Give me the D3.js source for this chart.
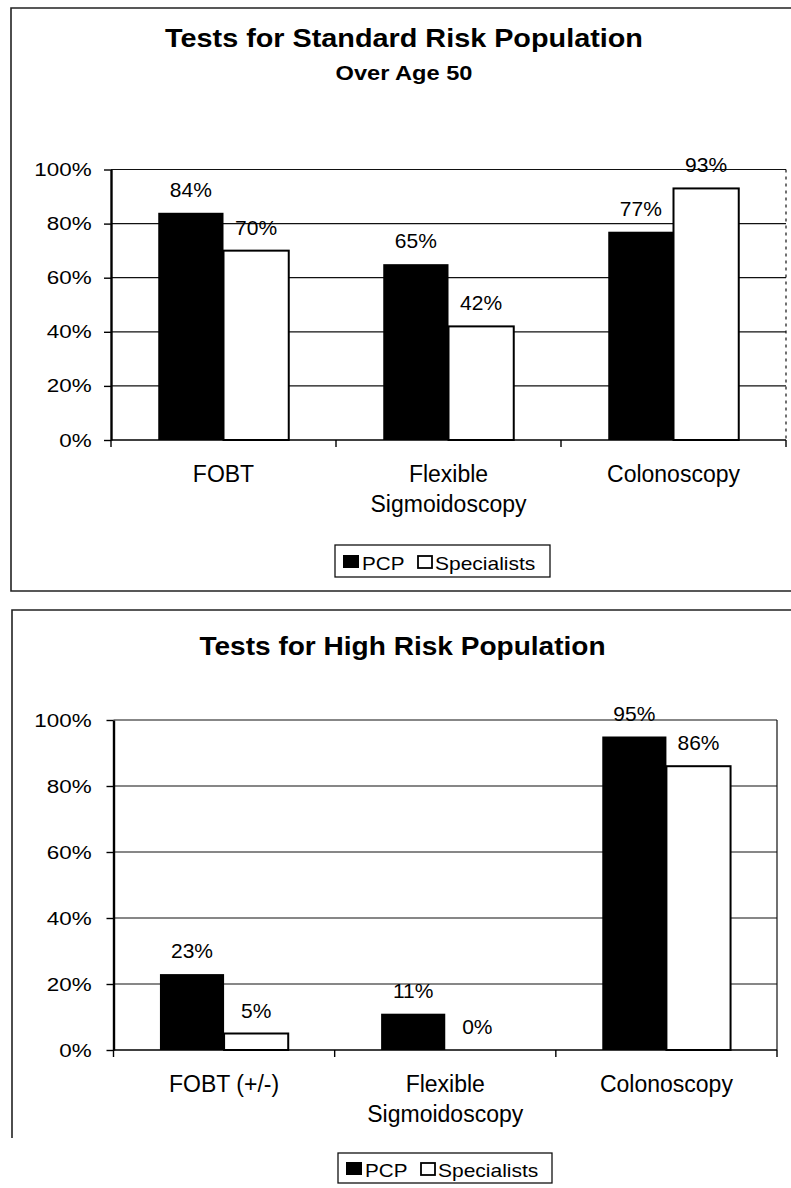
<!DOCTYPE html>
<html>
<head>
<meta charset="utf-8">
<script src="https://cdn.jsdelivr.net/npm/d3@7"></script>
<style>
body{margin:0;background:#fff;}
svg{display:block;font-family:'Liberation Sans',Arial,Helvetica,sans-serif;}
</style>
</head>
<body>
<svg id="chart" width="791" height="1188"></svg>
<script>
// data
const seriesNames = ['PCP', 'Specialists'];
const yTicks = [0, 20, 40, 60, 80, 100];

const standardCategories = ['FOBT', 'Flexible\nSigmoidoscopy', 'Colonoscopy'];
const standardPCP = [84, 65, 77];
const standardSpecialists = [70, 42, 93];

const highCategories = ['FOBT (+/-)', 'Flexible\nSigmoidoscopy', 'Colonoscopy'];
const highPCP = [23, 11, 95];
const highSpecialists = [5, 0, 86];

const svg = d3.select('#chart');

// scanned text is a bit wider than the font, so stretch it in x
function label(g, x, y, txt, size, sx, anchor, weight){
	return g.append('text')
		.attr('transform', `translate(${x},${y}) scale(${sx},1)`)
		.attr('text-anchor', anchor || 'middle')
		.style('font-size', size + 'px')
		.style('font-weight', weight || 'normal')
		.style('fill', '#000')
		.text(txt);
}

function drawChart(cfg){
	const g = svg.append('g');
	const p = cfg.plot;

	// outer frame
	const f = cfg.frame;
	g.append('path')
		.attr('d', f.bottom ? `M791,${f.y}H${f.x}V${f.bottom}H791` : `M791,${f.y}H${f.x}V${f.end}`)
		.style('fill', 'none').style('stroke', '#222').style('stroke-width', 1.6);

	cfg.titles.forEach(t => label(g, cfg.titleX, t.y, t.text, t.size, t.sx, 'middle', 'bold'));

	const y = d3.scaleLinear().domain([0, 100]).range([p.b, p.t]);
	const x0 = d3.scaleBand().domain(d3.range(cfg.categories.length)).range([p.l, p.r])
		.paddingInner(0.42).paddingOuter(0.21);
	const x1 = d3.scaleBand().domain(seriesNames).range([0, x0.bandwidth()]);

	// gridlines
	g.append('g').selectAll('line')
		.data(yTicks.filter(d => d > 0))
		.join('line')
		.attr('x1', p.l).attr('x2', p.r)
		.attr('y1', d => y(d)).attr('y2', d => y(d))
		.style('stroke', '#111').style('stroke-width', 1.2);

	// right border of plot area
	g.append('line')
		.attr('x1', p.r).attr('x2', p.r).attr('y1', p.t).attr('y2', p.b)
		.style('stroke', '#111').style('stroke-width', 1.2)
		.style('stroke-dasharray', cfg.rightDash || null);

	// bars
	const rows = cfg.categories.map((c, i) => ({i, values: [cfg.pcp[i], cfg.spec[i]]}));
	const grp = g.append('g').selectAll('g')
		.data(rows).join('g')
		.attr('transform', d => `translate(${x0(d.i)},0)`);
	grp.selectAll('rect')
		.data(d => d.values.map((v, k) => ({v, s: seriesNames[k]})))
		.join('rect')
		.attr('x', d => x1(d.s))
		.attr('y', d => y(d.v))
		.attr('width', x1.bandwidth())
		.attr('height', d => p.b - y(d.v))
		.style('fill', d => d.s === 'PCP' ? '#000' : '#fff')
		.style('stroke', '#000')
		.style('stroke-width', d => d.s === 'PCP' ? 0 : (d.v > 0 ? 2 : 0));
	grp.each(function(d){
		d.values.forEach((v, k) => {
			label(d3.select(this), x1(seriesNames[k]) + x1.bandwidth()/2, y(v) - 16, v + '%', 20, 1.05);
		});
	});

	// x axis
	g.append('line')
		.attr('x1', p.l).attr('x2', p.r).attr('y1', p.b).attr('y2', p.b)
		.style('stroke', '#000').style('stroke-width', 1.6);
	g.append('g').selectAll('line')
		.data(d3.range(cfg.categories.length + 1))
		.join('line')
		.attr('x1', d => p.l + d*x0.step()).attr('x2', d => p.l + d*x0.step())
		.attr('y1', p.b).attr('y2', p.b + 7)
		.style('stroke', '#000').style('stroke-width', 1.4);

	cfg.categories.forEach((c, i) => {
		c.split('\n').forEach((line, k) => {
			label(g, x0(i) + x0.bandwidth()/2, p.b + 42 + k*29.5, line, 23, 1.0);
		});
	});

	// y axis
	const ax = g.append('g')
		.attr('transform', `translate(${p.l},0)`)
		.call(d3.axisLeft(y).tickValues(yTicks).tickSize(7).tickSizeOuter(0).tickFormat(d => d + '%'));
	ax.select('.domain').style('stroke', '#000').style('stroke-width', 2.4);
	ax.selectAll('.tick line').style('stroke', '#000').style('stroke-width', 1.4);
	ax.selectAll('.tick text')
		.attr('x', cfg.tickX)
		.attr('transform', 'scale(1.18,1)')
		.style('font-size', '19px')
		.style('font-family', "'Liberation Sans',Arial,Helvetica,sans-serif")
		.style('fill', '#000');

	// legend
	const L = cfg.legend;
	const lg = g.append('g').attr('transform', `translate(${L.x},${L.y})`);
	lg.append('rect').attr('width', L.w).attr('height', L.h)
		.style('fill', '#fff').style('stroke', '#111').style('stroke-width', 1.3);
	const cy = L.h/2;
	lg.append('rect').attr('x', 8).attr('y', cy - 6).attr('width', 16).attr('height', 13).style('fill', '#000');
	label(lg, 27, cy + 8.5, seriesNames[0], 17.5, 1.18, 'start');
	lg.append('rect').attr('x', 83).attr('y', cy - 5).attr('width', 14).attr('height', 12)
		.style('fill', '#fff').style('stroke', '#000').style('stroke-width', 1.8);
	label(lg, 100, cy + 8.5, seriesNames[1], 17.5, 1.2, 'start');
}

drawChart({
	frame: {x: 11, y: 8, bottom: 591},
	titleX: 404,
	titles: [
		{text: 'Tests for Standard Risk Population', y: 46.7, size: 25.5, sx: 1.13},
		{text: 'Over Age 50', y: 80, size: 20, sx: 1.18}
	],
	plot: {l: 111, r: 786, t: 169.5, b: 440},
	rightDash: '3,4',
	tickX: -16.4,
	categories: standardCategories,
	pcp: standardPCP,
	spec: standardSpecialists,
	legend: {x: 335, y: 545, w: 215, h: 32}
});

drawChart({
	frame: {x: 12, y: 610, end: 1138},
	titleX: 402.5,
	titles: [
		{text: 'Tests for High Risk Population', y: 655, size: 25.5, sx: 1.1}
	],
	plot: {l: 113.5, r: 777, t: 720, b: 1050},
	tickX: -18.5,
	categories: highCategories,
	pcp: highPCP,
	spec: highSpecialists,
	legend: {x: 338, y: 1153, w: 214, h: 30}
});
</script>
</body>
</html>
